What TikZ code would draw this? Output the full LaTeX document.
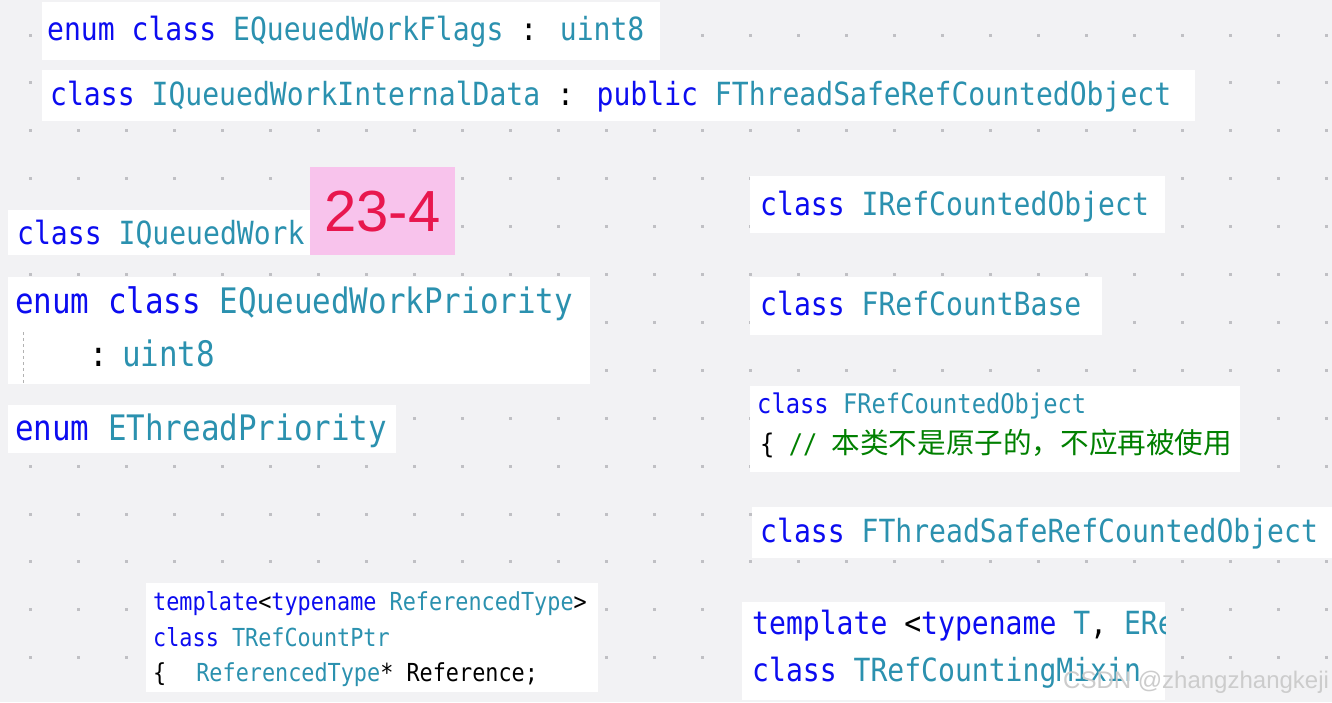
\documentclass[tikz,border=0pt]{standalone}
\usepackage{fontspec}
\usepackage{xcolor}
\usepackage{tikz}
\newfontfamily\codefont[FakeStretch=0.88]{DejaVu Sans Mono}
\newfontfamily\cjkfont{Noto Sans CJK SC}
\newfontfamily\markfont{Liberation Sans}
\definecolor{paper}{RGB}{242,242,244}
\definecolor{griddot}{RGB}{192,192,196}
\definecolor{kwblue}{RGB}{12,12,240}
\definecolor{typeteal}{RGB}{43,145,175}
\definecolor{cmgreen}{RGB}{0,128,0}
\definecolor{tagpink}{RGB}{248,195,236}
\definecolor{tagred}{RGB}{232,23,78}
\newcommand{\kw}[1]{\textcolor{kwblue}{#1}}
\newcommand{\ty}[1]{\textcolor{typeteal}{#1}}
\newcommand{\cm}[1]{\textcolor{cmgreen}{#1}}

\begin{document}
\begin{tikzpicture}[x=1pt, y=-1pt,
    code/.style={inner sep=0pt, anchor=base west, text=black,
        font=\codefont\fontsize{#1}{#1}\selectfont},
    snippet/.style={fill=white}]

    % background with dot grid
    \useasboundingbox (0,0) rectangle (1332,702);
    \fill[paper] (0,0) rectangle (1332,702);
    \foreach \i in {0,...,27}
        \foreach \j in {0,...,13}
            \fill[griddot] ({30+48*\i-1.5},{35+47.9*\j-1.5}) rectangle +(3,3);

    % left column
    \fill[snippet] (42,2) rectangle (660,60);
    \node[code=31.9] (flags) at (47,40)
        {\kw{enum class} \ty{EQueuedWorkFlags} : \ty{uint8}};

    \fill[snippet] (42,70) rectangle (1195,121);
    \node[code=31.9] (internaldata) at (50,105)
        {\kw{class} \ty{IQueuedWorkInternalData} : \kw{public} \ty{FThreadSafeRefCountedObject}};

    \fill[snippet] (8,210) rectangle (310,255);
    \node[code=31.9] (queuedwork) at (17,244) {\kw{class} \ty{IQueuedWork}};

    \fill[tagpink] (310,167) rectangle (455,255);
    \node[inner sep=0pt, text=tagred, font=\markfont\fontsize{58}{58}\selectfont]
        (tag) at (382.5,212) {23-4};

    \fill[snippet] (8,277) rectangle (590,384);
    \draw[gray!60, dashed, line width=1pt] (23.5,332) -- (23.5,384);
    \node[code=35.1] (priority) at (15,313) {\kw{enum class} \ty{EQueuedWorkPriority}};
    \node[code=35.1] (prioritybase) at (15,366) {\phantom{0000}:\hspace{14pt}\ty{uint8}};

    \fill[snippet] (8,405) rectangle (396,453);
    \node[code=35.1] (threadprio) at (15,440) {\kw{enum} \ty{EThreadPriority}};

    \fill[snippet] (146,583) rectangle (598,692);
    \node[code=24.8] (ptrtpl) at (153,610)
        {\kw{template}<\kw{typename} \ty{ReferencedType}>};
    \node[code=24.8] (ptrclass) at (153,646) {\kw{class} \ty{TRefCountPtr}};
    \node[code=24.8] (ptrfield) at (153,681)
        {\{\hspace{30pt}\ty{ReferencedType}* Reference;};

    % right column
    \fill[snippet] (750,176) rectangle (1165,233);
    \node[code=31.9] (irefobj) at (760,215) {\kw{class} \ty{IRefCountedObject}};

    \fill[snippet] (750,277) rectangle (1102,335);
    \node[code=31.9] (refbase) at (760,315) {\kw{class} \ty{FRefCountBase}};

    \fill[snippet] (750,386) rectangle (1240,472);
    \node[code=27] (refobj) at (757,413) {\kw{class} \ty{FRefCountedObject}};
    \node[code=27] (refobjnote) at (760,453)
        {\{ \cm{// {\cjkfont\fontsize{28.6}{28.6}\selectfont 本类不是原子的，不应再被使用}}};

    \fill[snippet] (752,507) rectangle (1332,558);
    \node[code=31.9] (tsrefobj) at (760,542) {\kw{class} \ty{FThreadSafeRefCountedObject}};

    \fill[snippet] (742,602) rectangle (1165,700);
    \begin{scope}
        \clip (742,602) rectangle (1165,700);
        \node[code=31.9] (mixintpl) at (752,634)
            {\kw{template} <\kw{typename} \ty{T}, \ty{ERefCountingMode}};
        \node[code=31.9] (mixinclass) at (752,681) {\kw{class} \ty{TRefCountingMixin}};
    \end{scope}

    \node[inner sep=0pt, anchor=base west, text=gray!40,
        font=\markfont\fontsize{24}{24}\selectfont]
        (watermark) at (1063,688) {CSDN @zhangzhangkeji};
\end{tikzpicture}
\end{document}
